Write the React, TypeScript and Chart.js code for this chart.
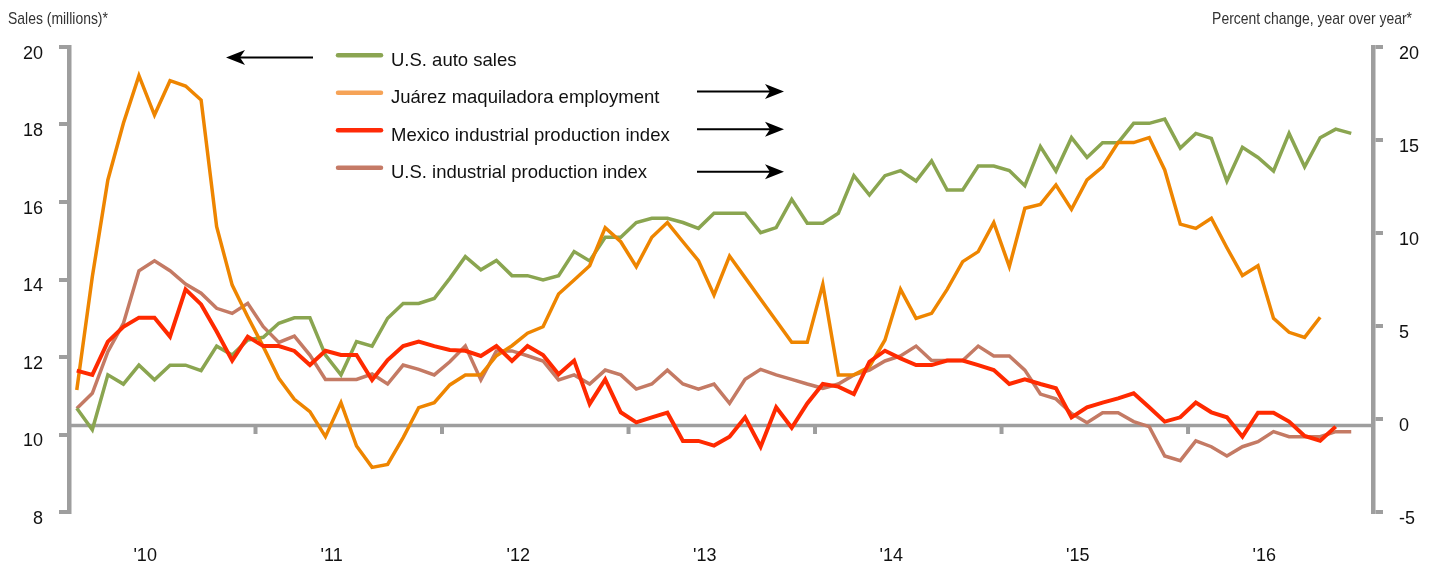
import React, { useEffect, useRef } from 'react';
import { Chart, registerables } from 'chart.js';

Chart.register(...registerables);

// ---- Data (monthly, index 0 = first month shown) ----
const autoSales = [
  10.68, 10.12, 11.54, 11.3, 11.79, 11.41, 11.79, 11.79, 11.65, 12.28,
  12.05, 12.44, 12.51, 12.87, 13.01, 13.01, 12.05, 11.54, 12.4, 12.28,
  13.0, 13.38, 13.38, 13.51, 14.03, 14.59, 14.25, 14.49, 14.1, 14.1,
  13.99, 14.1, 14.72, 14.48, 15.09, 15.09, 15.47, 15.58, 15.58, 15.47,
  15.32, 15.71, 15.71, 15.71, 15.21, 15.34, 16.07, 15.45, 15.45, 15.71,
  16.68, 16.18, 16.68, 16.81, 16.54, 17.06, 16.31, 16.31, 16.93, 16.93,
  16.81, 16.42, 17.43, 16.8, 17.66, 17.15, 17.53, 17.53, 18.03, 18.03,
  18.14, 17.39, 17.77, 17.64, 16.54, 17.41, 17.15, 16.8, 17.77, 16.91,
  17.66, 17.88, 17.77,
];

const juarezEmployment = [
  1.56, 7.65, 12.85, 15.9, 18.46, 16.34, 18.19, 17.9, 17.15, 10.34,
  7.2, 5.5, 3.89, 2.19, 1.06, 0.4, -0.95, 0.88, -1.45, -2.6,
  -2.44, -1.0, 0.61, 0.88, 1.83, 2.37, 2.37, 3.4, 3.94, 4.61,
  4.96, 6.72, 7.47, 8.24, 10.29, 9.53, 8.19, 9.77, 10.56, 9.53,
  8.51, 6.67, 8.76, 7.6, 6.44, 5.28, 4.12, 4.12, 7.24, 2.37,
  2.37, 2.81, 4.25, 6.97, 5.41, 5.68, 6.97, 8.46, 9.0, 10.56,
  8.19, 11.33, 11.54, 12.58, 11.27, 12.85, 13.56, 14.86, 14.86, 15.13,
  13.39, 10.48, 10.25, 10.79, 9.21, 7.71, 8.24, 5.41, 4.66, 4.39,
  5.47,
];

const mexicoIndustrialProduction = [
  2.6, 2.37, 4.16, 4.96, 5.45, 5.45, 4.43, 6.97, 6.16, 4.7,
  3.14, 4.43, 3.92, 3.92, 3.66, 2.9, 3.67, 3.44, 3.44, 2.1,
  3.17, 3.92, 4.16, 3.92, 3.71, 3.67, 3.39, 3.92, 3.12, 3.92,
  3.44, 2.4, 3.14, 0.81, 2.13, 0.36, -0.18, 0.09, 0.34, -1.18,
  -1.18, -1.43, -0.95, 0.09, -1.49, 0.63, -0.47, 0.84, 1.88, 1.74,
  1.34, 3.08, 3.67, 3.26, 2.9, 2.9, 3.14, 3.14, 2.9, 2.63,
  1.88, 2.13, 1.88, 1.65, 0.09, 0.63, 0.88, 1.11, 1.38, 0.63,
  -0.14, 0.09, 0.88, 0.36, 0.09, -0.95, 0.34, 0.34, -0.14, -0.91,
  -1.17, -0.41,
];

const usIndustrialProduction = [
  0.57, 1.38, 3.62, 5.14, 7.97, 8.51, 7.97, 7.26, 6.76, 5.95,
  5.68, 6.22, 4.96, 4.12, 4.46, 3.44, 2.13, 2.13, 2.13, 2.42,
  1.88, 2.9, 2.67, 2.37, 3.08, 3.92, 2.1, 3.66, 3.66, 3.4,
  3.12, 2.1, 2.37, 1.88, 2.63, 2.37, 1.61, 1.88, 2.63, 1.88,
  1.61, 1.88, 0.84, 2.13, 2.67, 2.37, 2.13, 1.88, 1.65, 1.88,
  2.37, 2.63, 3.12, 3.39, 3.92, 3.14, 3.14, 3.14, 3.92, 3.39,
  3.39, 2.63, 1.34, 1.08, 0.3, -0.2, 0.34, 0.34, -0.14, -0.41,
  -1.99, -2.24, -1.18, -1.49, -1.99, -1.49, -1.22, -0.68, -0.95, -0.95,
  -0.95, -0.68, -0.68,
];

const yearLabels = ["'10", "'11", "'12", "'13", "'14", "'15", "'16"];
const yearLabelPositions = [4.4, 16.4, 28.4, 40.4, 52.4, 64.4, 76.4];
const yearSeparatorPositions = [11.5, 23.5, 35.5, 47.5, 59.5, 71.5];

const leftAxisTitle = 'Sales (millions)*';
const rightAxisTitle = 'Percent change, year over year*';
const seriesNames = [
  'U.S. auto sales',
  'Juárez maquiladora employment',
  'Mexico industrial production index',
  'U.S. industrial production index',
];
const baselineValue = -0.35; // right-axis value of the horizontal reference line

// ---- Styles ----
const GRAY = '#9e9e9e';
const FONT = "'Liberation Sans', Arial, Helvetica, sans-serif";
const lineColors = ['#8aa550', '#ee8500', '#ff2a00', '#c47a64'];
const legendColors = ['#8ba552', '#f6a357', '#ff2a08', '#c57a66'];

function drawArrow(ctx: CanvasRenderingContext2D, tail: number, tip: number, y: number) {
  const dir = tip > tail ? 1 : -1;
  const headLen = 19;
  const half = 7.5;
  ctx.beginPath();
  ctx.lineWidth = 2;
  ctx.strokeStyle = '#000';
  ctx.moveTo(tail, y);
  ctx.lineTo(tip - dir * 10, y);
  ctx.stroke();
  ctx.beginPath();
  ctx.fillStyle = '#000';
  ctx.moveTo(tip, y);
  ctx.lineTo(tip - dir * headLen, y - half);
  ctx.lineTo(tip - dir * 14, y);
  ctx.lineTo(tip - dir * headLen, y + half);
  ctx.closePath();
  ctx.fill();
}

function drawCondensed(ctx: CanvasRenderingContext2D, text: string, x: number, y: number, align: CanvasTextAlign) {
  ctx.save();
  ctx.translate(x, y);
  ctx.scale(0.82, 1);
  ctx.textAlign = align;
  ctx.fillText(text, 0, 0);
  ctx.restore();
}

const decorPlugin = {
  id: 'decor',
  beforeDatasetsDraw(chart: any) {
    const { ctx, chartArea, scales } = chart;
    const y0 = scales.yRight.getPixelForValue(baselineValue);
    ctx.save();
    ctx.strokeStyle = GRAY;
    ctx.lineWidth = 3.5;
    ctx.beginPath();
    ctx.moveTo(chartArea.left, y0);
    ctx.lineTo(chartArea.right, y0);
    ctx.stroke();
    ctx.lineWidth = 4;
    for (const p of yearSeparatorPositions) {
      const px = scales.x.getPixelForValue(p);
      ctx.beginPath();
      ctx.moveTo(px, y0);
      ctx.lineTo(px, y0 + 8.5);
      ctx.stroke();
    }
    ctx.restore();
  },
  afterDraw(chart: any) {
    const { ctx } = chart;
    ctx.save();
    // axis titles
    ctx.fillStyle = '#333';
    ctx.font = `17px ${FONT}`;
    ctx.textBaseline = 'alphabetic';
    drawCondensed(ctx, leftAxisTitle, 8, 23.5, 'left');
    drawCondensed(ctx, rightAxisTitle, 1412, 23.5, 'right');

    // legend
    const rows = [55.2, 92.8, 130.3, 167.8];
    chart.data.datasets.forEach((ds: any, i: number) => {
      const y = rows[i];
      ctx.beginPath();
      ctx.strokeStyle = legendColors[i];
      ctx.lineWidth = 4.5;
      ctx.lineCap = 'round';
      ctx.moveTo(338, y);
      ctx.lineTo(381, y);
      ctx.stroke();
      ctx.fillStyle = '#111';
      ctx.font = `18.5px ${FONT}`;
      ctx.textAlign = 'left';
      ctx.fillText(ds.label, 391, y + 10.5);
    });
    ctx.lineCap = 'butt';

    // arrows
    drawArrow(ctx, 313, 226, 57.5);
    drawArrow(ctx, 697, 784, 91.5);
    drawArrow(ctx, 697, 784, 129.3);
    drawArrow(ctx, 697, 784, 171.7);
    ctx.restore();
  },
};

export default function App() {
  const ref = useRef<HTMLCanvasElement>(null);

  useEffect(() => {
    if (!ref.current) return;
    const series = [autoSales, juarezEmployment, mexicoIndustrialProduction, usIndustrialProduction];
    const axes = ['yLeft', 'yRight', 'yRight', 'yRight'];
    const widths = [3.5, 3.5, 4, 3.5];
    const orders = [2, 1, 0, 3];
    const chart = new Chart(ref.current, {
      type: 'line',
      data: {
        datasets: series.map((arr, k) => ({
          label: seriesNames[k],
          data: arr.map((v, i) => ({ x: i, y: v })),
          yAxisID: axes[k],
          borderColor: lineColors[k],
          backgroundColor: lineColors[k],
          borderWidth: widths[k],
          pointRadius: 0,
          tension: 0,
          fill: false,
          order: orders[k],
        })),
      },
      options: {
        responsive: false,
        animation: false,
        devicePixelRatio: 1,
        events: [],
        layout: { padding: { top: 47, left: 0, right: 0, bottom: 0 } },
        plugins: {
          legend: { display: false },
          tooltip: { enabled: false },
          title: { display: false },
        },
        scales: {
          x: {
            type: 'linear',
            position: 'bottom',
            min: -0.5,
            max: 83.4,
            grid: { display: false, drawTicks: false },
            border: { display: false },
            ticks: {
              autoSkip: false,
              maxRotation: 0,
              padding: 33,
              color: '#111',
              font: { family: FONT, size: 18 },
              callback: (_v: any, i: number) => yearLabels[i] ?? '',
            },
            afterBuildTicks: (s: any) => {
              s.ticks = yearLabelPositions.map((v) => ({ value: v }));
            },
            afterFit: (s: any) => {
              s.height = 52;
            },
          },
          yLeft: {
            type: 'linear',
            position: 'left',
            min: 8,
            max: 20,
            ticks: {
              stepSize: 2,
              padding: 16,
              labelOffset: 7,
              color: '#111',
              font: { family: FONT, size: 18 },
            },
            grid: { drawOnChartArea: false, drawTicks: true, tickLength: 10, color: GRAY, lineWidth: 4 },
            border: { display: true, color: GRAY, width: 4.5 },
            afterFit: (s: any) => {
              s.width = 69;
            },
          },
          yRight: {
            type: 'linear',
            position: 'right',
            min: -5,
            max: 20,
            ticks: {
              stepSize: 5,
              padding: 16,
              labelOffset: 7,
              color: '#111',
              font: { family: FONT, size: 18 },
            },
            grid: { drawOnChartArea: false, drawTicks: true, tickLength: 10, color: GRAY, lineWidth: 4 },
            border: { display: true, color: GRAY, width: 4.5 },
            afterFit: (s: any) => {
              s.width = 63;
            },
          },
        },
      } as any,
      plugins: [decorPlugin],
    });
    return () => chart.destroy();
  }, []);

  return (
    <div style={{ position: 'fixed', left: 0, top: 0, width: 1436, height: 564, background: '#fff' }}>
      <canvas ref={ref} width={1436} height={564} style={{ display: 'block', width: 1436, height: 564 }} />
    </div>
  );
}
